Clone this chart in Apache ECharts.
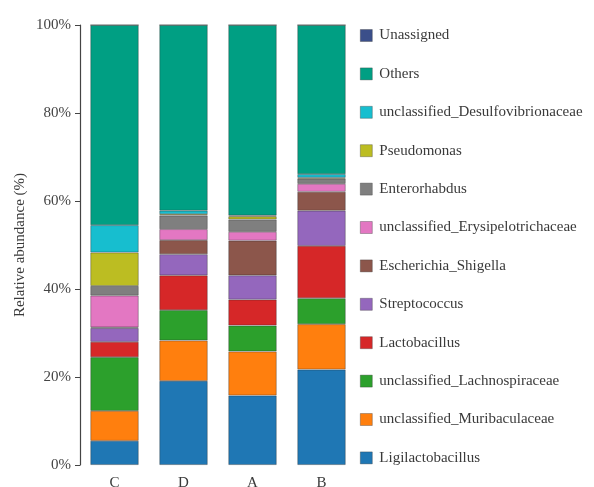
<!DOCTYPE html>
<html>
<head>
<meta charset="utf-8">
<script src="https://cdn.jsdelivr.net/npm/echarts@6/dist/echarts.min.js"></script>
<style>
  html, body { margin: 0; padding: 0; background: #fff; }
  #chart { width: 594px; height: 487px; }
</style>
</head>
<body>
<div id="chart"></div>
<script>
// Sample groups along the x axis
const samples = ['C', 'D', 'A', 'B'];

// Taxa, stacked from the bottom of each bar upward
const taxa = [
  'Ligilactobacillus',
  'unclassified_Muribaculaceae',
  'unclassified_Lachnospiraceae',
  'Lactobacillus',
  'Streptococcus',
  'Escherichia_Shigella',
  'unclassified_Erysipelotrichaceae',
  'Enterorhabdus',
  'Pseudomonas',
  'unclassified_Desulfovibrionaceae',
  'Others',
  'Unassigned'
];

// Relative abundance (%) per taxon, in sample order C, D, A, B
const ligilactobacillus   = [5.5, 19.1, 15.8, 21.7];
const muribaculaceae      = [6.8, 9.2, 10.0, 10.3];
const lachnospiraceae     = [12.2, 6.9, 5.9, 5.9];
const lactobacillus       = [3.5, 7.9, 5.9, 11.9];
const streptococcus       = [3.1, 4.8, 5.5, 8.0];
const escherichia         = [0.2, 3.2, 7.9, 4.3];
const erysipelotrichaceae = [7.2, 2.5, 2.0, 1.8];
const enterorhabdus       = [2.2, 3.1, 2.8, 1.2];
const pseudomonas         = [7.6, 0.3, 0.7, 0.2];
const desulfovibrionaceae = [6.2, 0.8, 0.2, 0.8];
const others              = [45.5, 42.2, 43.3, 33.9];
const unassigned          = [0, 0, 0, 0];

const values = [
  ligilactobacillus, muribaculaceae, lachnospiraceae, lactobacillus,
  streptococcus, escherichia, erysipelotrichaceae, enterorhabdus,
  pseudomonas, desulfovibrionaceae, others, unassigned
];

const colors = [
  '#1f77b4', '#ff7f0e', '#2ca02c', '#d62728', '#9467bd', '#8c564b',
  '#e377c2', '#7f7f7f', '#bcbd22', '#17becf', '#009f83', '#3b4f8a'
];

const yTicks = [0, 20, 40, 60, 80, 100];

const serif = '"Liberation Serif", "DejaVu Serif", serif';

const chart = echarts.init(document.getElementById('chart'), null, { renderer: 'canvas' });

chart.setOption({
  animation: false,
  backgroundColor: '#fff',
  color: colors,
  grid: { left: 80, right: 238, top: 25, bottom: 22, outerBoundsMode: 'none', containLabel: false },
  legend: {
    orient: 'vertical',
    left: 355,
    top: 23,
    padding: 5,
    itemWidth: 12,
    itemHeight: 12,
    itemGap: 23.4,
    icon: 'rect',
    data: taxa.slice().reverse(),
    itemStyle: { borderColor: 'rgba(60,60,60,0.6)', borderWidth: 0.6 },
    textStyle: { fontFamily: serif, fontSize: 15, color: '#3a3a3a', padding: [0, 0, 0, 2] }
  },
  xAxis: {
    type: 'category',
    data: samples,
    axisLine: { show: false },
    axisTick: { show: false },
    axisLabel: { fontFamily: serif, fontSize: 15, color: '#3a3a3a', margin: 11 }
  },
  yAxis: {
    type: 'value',
    min: yTicks[0],
    max: yTicks[yTicks.length - 1],
    interval: 20,
    name: 'Relative abundance (%)',
    nameLocation: 'middle',
    nameGap: 52,
    nameRotate: 90,
    nameTextStyle: { fontFamily: serif, fontSize: 15, color: '#3a3a3a' },
    axisLine: { show: true, lineStyle: { color: '#444', width: 1.2 } },
    axisTick: { show: true, length: 5, lineStyle: { color: '#444' } },
    splitLine: { show: false },
    axisLabel: { fontFamily: serif, fontSize: 15, color: '#444', margin: 9, formatter: '{value}%' }
  },
  series: taxa.map((name, i) => ({
    name: name,
    type: 'bar',
    stack: 'abundance',
    barCategoryGap: '30%',
    data: values[i],
    itemStyle: {
      color: colors[i],
      borderColor: 'rgba(40,40,40,0.45)',
      borderWidth: 0.8
    }
  }))
});
</script>
</body>
</html>
